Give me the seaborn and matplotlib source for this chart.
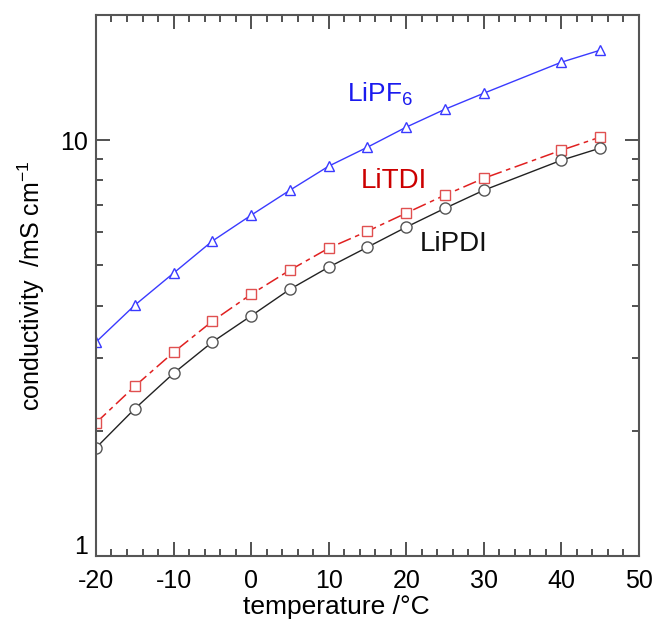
import numpy as np
import pandas as pd
import matplotlib
matplotlib.use("Agg")
import matplotlib.pyplot as plt
from matplotlib.ticker import LogLocator, FuncFormatter, NullFormatter, MultipleLocator
from matplotlib.transforms import ScaledTranslation
import seaborn as sns

# data
temperature = [-20, -15, -10, -5, 0, 5, 10, 15, 20, 25, 30, 40, 45]
lipf6 = [3.27, 4.01, 4.79, 5.72, 6.60, 7.58, 8.66, 9.62, 10.75, 11.87, 12.97, 15.40, 16.46]
litdi = [2.09, 2.56, 3.09, 3.67, 4.26, 4.87, 5.50, 6.04, 6.68, 7.38, 8.10, 9.46, 10.17]
lipdi = [1.82, 2.26, 2.75, 3.27, 3.78, 4.38, 4.95, 5.53, 6.18, 6.86, 7.58, 8.95, 9.57]

sns.set_style("ticks")
plt.rcParams['font.family'] = ['Liberation Sans', 'DejaVu Sans']
plt.rcParams['mathtext.default'] = 'regular'
plt.rcParams['axes.unicode_minus'] = False
plt.rcParams['text.color'] = 'black'
plt.rcParams['axes.labelcolor'] = 'black'
plt.rcParams['xtick.labelcolor'] = 'black'
plt.rcParams['ytick.labelcolor'] = 'black'

df = pd.DataFrame({"T": temperature, "LiPF6": lipf6, "LiTDI": litdi, "LiPDI": lipdi})

fig = plt.figure(figsize=(6.56, 6.23), dpi=100)
ax = fig.add_axes([0.1463, 0.1075, 0.8277, 0.8684])

sns.lineplot(data=df, x="T", y="LiPF6", ax=ax, color="#3a3aff", lw=1.0,
             marker="^", markersize=7.5, markerfacecolor="white",
             markeredgecolor="#3a3aff", markeredgewidth=1.0)
sns.lineplot(data=df, x="T", y="LiTDI", ax=ax, color="#e02020", lw=1.1,
             dashes=(9, 3, 3, 3), marker="s", markersize=7, markerfacecolor="white",
             markeredgecolor="#e05050", markeredgewidth=1.0)
sns.lineplot(data=df, x="T", y="LiPDI", ax=ax, color="#222222", lw=1.0,
             marker="o", markersize=8, markerfacecolor="white",
             markeredgecolor="#555555", markeredgewidth=1.0)

ax.set_yscale("log")
ax.set_xlim(-20, 50)
ax.set_ylim(1, 20)

ax.xaxis.set_major_locator(MultipleLocator(10))
ax.xaxis.set_minor_locator(MultipleLocator(2))
ax.yaxis.set_major_locator(LogLocator(base=10))
ax.yaxis.set_minor_locator(LogLocator(base=10, subs=np.arange(2, 10)))
ax.yaxis.set_major_formatter(FuncFormatter(lambda v, p: "%g" % v))
ax.yaxis.set_minor_formatter(NullFormatter())

ax.tick_params(which="both", direction="in", top=True, right=True,
               color="#333333", width=1.2)
ax.tick_params(which="major", length=10, labelsize=18)
ax.tick_params(axis="x", which="major", pad=9)
ax.tick_params(axis="y", which="major", pad=6)
ax.tick_params(which="minor", length=5)
for s in ax.spines.values():
    s.set_color("#555555")
    s.set_linewidth(1.5)

ax.set_xlabel("temperature /°C", fontsize=19)
ax.xaxis.set_label_coords(0.442, -0.072)
ax.set_ylabel("conductivity  /mS cm$^{-1}$", fontsize=18, labelpad=9)

ax.text(16.6, 12.9, "LiPF$_6$", color="#1a1aee", fontsize=19, ha="center", va="center")
ax.text(18.4, 7.97, "LiTDI", color="#cc0000", fontsize=20, ha="center", va="center")
ax.text(26.1, 5.62, "LiPDI", color="#111111", fontsize=20, ha="center", va="center")

# the "1" label sits a little above the bottom axis, clear of "-20"
fig.canvas.draw()
for lbl in ax.get_yticklabels():
    if lbl.get_text() == "1":
        lbl.set_transform(lbl.get_transform() + ScaledTranslation(0, 8 / 72, fig.dpi_scale_trans))

fig.savefig("out.png", dpi=100)
